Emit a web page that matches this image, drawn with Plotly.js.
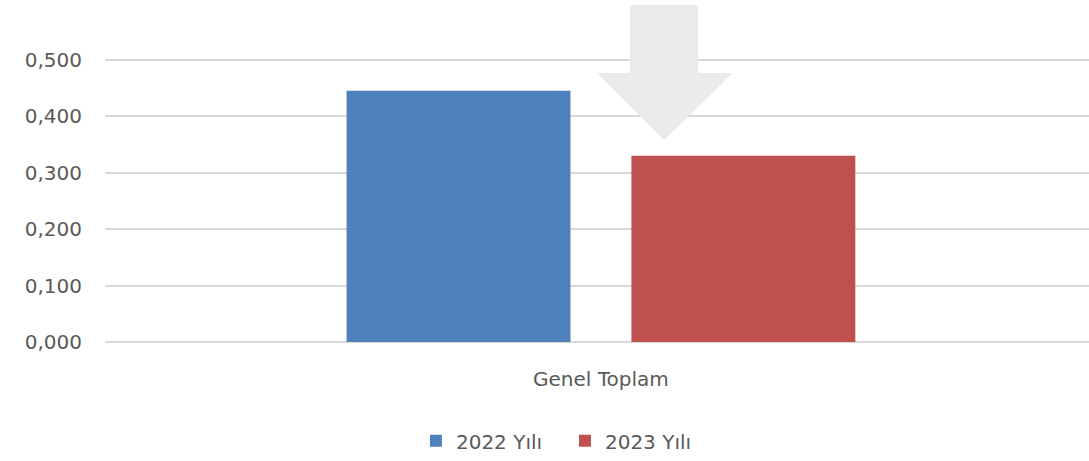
<!DOCTYPE html>
<html>
<head>
<meta charset="utf-8">
<script src="https://cdn.plot.ly/plotly-3.0.1.min.js"></script>
<style>html,body{margin:0;padding:0;background:#fff;}#chart{width:1089px;height:461px;}</style>
</head>
<body>
<div id="chart"></div>
<script>
const categories = ["Genel Toplam"];
const seriesNames = ["2022 Yılı", "2023 Yılı"];
const values2022 = [0.445];
const values2023 = [0.330];
const tickVals = [0, 0.1, 0.2, 0.3, 0.4, 0.5];

const colors = ["#4F81BD", "#C0504D"];
const fontFam = "DejaVu Sans, Open Sans, sans-serif";

const traces = [
  {type: "bar", name: seriesNames[0], x: categories, y: values2022, marker: {color: colors[0]}, hoverinfo: "none"},
  {type: "bar", name: seriesNames[1], x: categories, y: values2023, marker: {color: colors[1]}, hoverinfo: "none"}
];

const layout = {
  width: 1089, height: 461,
  margin: {l: 105, r: 0, t: 0, b: 119},
  paper_bgcolor: "#fff", plot_bgcolor: "#fff",
  separators: ",.",
  barmode: "group",
  bargap: 0.421,
  bargroupgap: 0.214,
  showlegend: true,
  font: {family: fontFam, color: "#595959", size: 20},
  xaxis: {
    type: "category",
    range: [-0.504, 0.496],
    showgrid: false, zeroline: false, showline: false,
    ticks: "outside", ticklen: 19, tickcolor: "rgba(0,0,0,0)",
    tickfont: {family: fontFam, size: 20, color: "#595959"}
  },
  yaxis: {
    range: [0, 0.606],
    tickvals: tickVals,
    tickformat: ".3f",
    showgrid: true, gridcolor: "#d9d9d9", gridwidth: 2,
    zeroline: true, zerolinecolor: "#d9d9d9", zerolinewidth: 2,
    showline: false,
    ticks: "outside", ticklen: 18, tickcolor: "rgba(0,0,0,0)",
    tickfont: {family: fontFam, size: 20, color: "#595959"}
  },
  legend: {
    orientation: "h",
    x: 0.316, xanchor: "left",
    y: -0.289, yanchor: "middle",
    font: {family: fontFam, size: 20, color: "#595959"},
    itemwidth: 30,
    entrywidth: 104, entrywidthmode: "pixels"
  },
  shapes: [{
    type: "path", xref: "paper", yref: "paper", layer: "above",
    path: "M 0.5335 0.9854 L 0.6026 0.9854 L 0.6026 0.7865 L 0.6382 0.7865 L 0.5681 0.5906 L 0.5 0.7865 L 0.5335 0.7865 Z",
    fillcolor: "#EBEBEB", line: {width: 0}
  }]
};

Plotly.newPlot("chart", traces, layout, {displayModeBar: false, staticPlot: true});
</script>
</body>
</html>
